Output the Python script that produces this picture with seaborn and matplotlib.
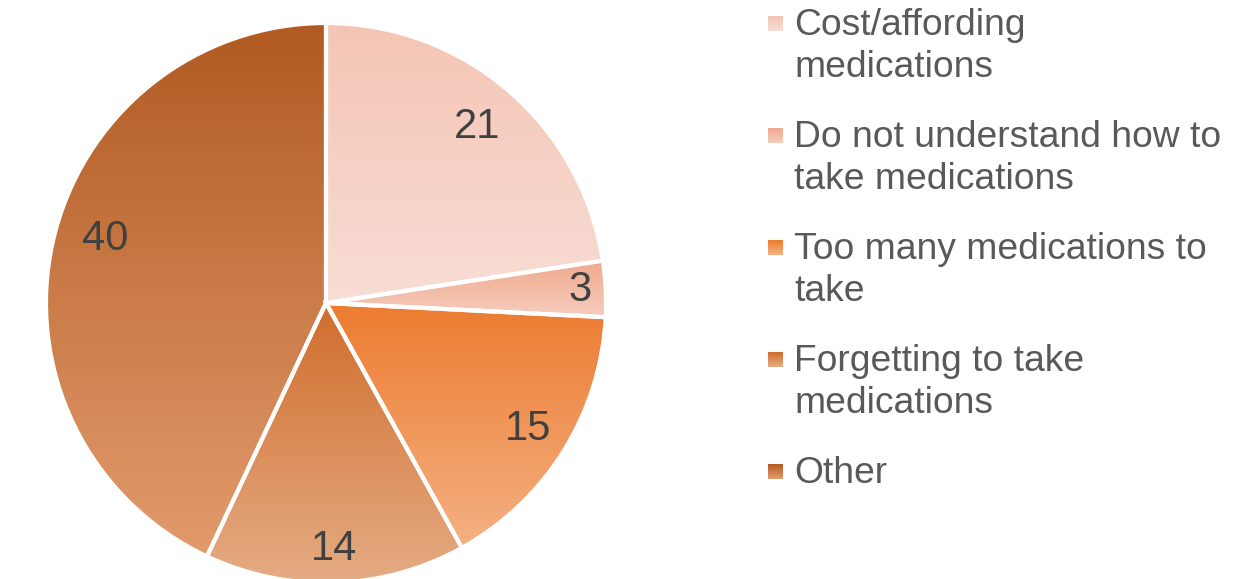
import matplotlib
matplotlib.use("Agg")
import matplotlib.pyplot as plt
import seaborn as sns
import numpy as np

# data
categories = ["Cost/affording\nmedications",
              "Do not understand how to\ntake medications",
              "Too many medications to\ntake",
              "Forgetting to take\nmedications",
              "Other"]
values = [21, 3, 15, 14, 40]

# vertical gradient per slice (top colour, bottom colour)
grad_top = ["#F4C5B5", "#EFA98C", "#EC7C30", "#D06D2C", "#B15A22"]
grad_bottom = ["#F8DDD4", "#F6CDBE", "#F4B183", "#E5AC84", "#E29B6C"]
label_r = [0.83, 0.91, 0.85, 0.88, 0.82]   # office "best fit" label spots
label_shift = [0, 0, 0, 0, -3.5]           # degrees

W, H = 1234, 579
sns.set_theme(style="white")
plt.rcParams["font.family"] = ["Liberation Sans", "DejaVu Sans"]

fig = plt.figure(figsize=(W / 100, H / 100), dpi=100)
ax = fig.add_axes([46 / W, (H - 583) / H, 560 / W, 560 / H])

wedges, _ = ax.pie(values, startangle=90, counterclock=False, radius=1,
                   wedgeprops=dict(edgecolor="white", linewidth=3))

for i, w in enumerate(wedges):
    th = np.radians(np.linspace(w.theta1, w.theta2, 300))
    ys = np.concatenate([np.sin(th), [0]])
    pal = sns.blend_palette([grad_top[i], grad_bottom[i]], n_colors=256)
    arr = np.array(pal)[:, None, :]
    im = ax.imshow(arr, extent=(-1, 1, ys.min(), ys.max()), origin="upper",
                   aspect="auto", interpolation="bilinear", zorder=0)
    im.set_clip_path(w)
    w.set_facecolor("none")
    w.set_zorder(2)
    mid = np.radians((w.theta1 + w.theta2) / 2 + label_shift[i])
    ax.text(label_r[i] * np.cos(mid), label_r[i] * np.sin(mid), str(values[i]),
            ha="center", va="center", fontsize=30, color="#404040", zorder=3)

ax.set_xlim(-1, 1)
ax.set_ylim(-1, 1)
ax.axis("off")

# legend, drawn by hand so markers sit on the first line like in office charts
lax = fig.add_axes([0, 0, 1, 1])
lax.set_xlim(0, W)
lax.set_ylim(H, 0)
lax.axis("off")
for i, lab in enumerate(categories):
    base = 35 + i * 112
    pal = sns.blend_palette([grad_top[i], grad_bottom[i]], n_colors=32)
    lax.imshow(np.array(pal)[:, None, :], extent=(768, 783, base - 4, base - 19),
               aspect="auto", interpolation="bilinear")
    for j, line in enumerate(lab.split("\n")):
        lax.text(794, base + j * 42, line, fontsize=26.8, color="#595959",
                 ha="left", va="baseline")
lax.set_xlim(0, W)
lax.set_ylim(H, 0)

fig.savefig("out.png", dpi=100)
